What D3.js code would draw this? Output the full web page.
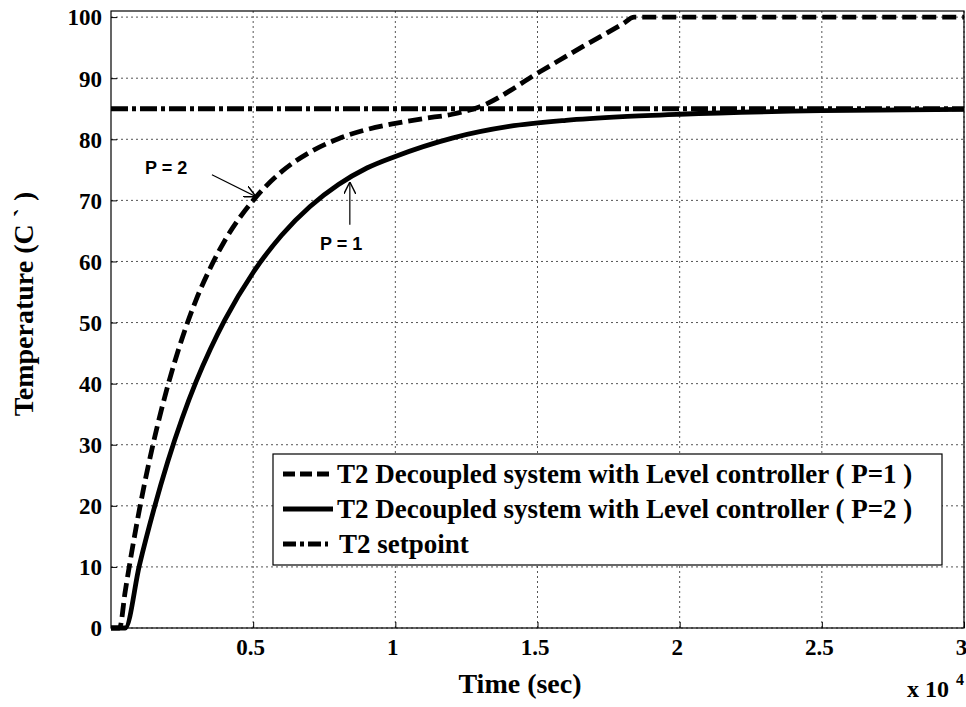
<!DOCTYPE html>
<html>
<head>
<meta charset="utf-8">
<script src="https://cdn.jsdelivr.net/npm/d3@7"></script>
<style>
  body { margin: 0; background: #fff; }
  svg { display: block; }
</style>
</head>
<body>
<svg id="drawing_region"></svg>
<script>
// time (s) and temperature readings, dashed curve
const dashed_time = [0, 300, 500, 1000, 1500, 2000, 2500, 3000, 3500, 4000, 5000, 6000, 7000, 8000, 9000, 10000, 11000, 12000, 12900, 15100, 16600, 18000, 18400, 30000];
const dashed_temp = [0, 0, 6, 19.4, 30.5, 39.7, 47.4, 53.8, 59, 63.4, 70, 74.7, 77.9, 80.1, 81.6, 82.6, 83.4, 84.1, 85.2, 91.1, 95.2, 98.9, 100, 100];

// solid curve
const solid_time = [0, 500, 1000, 1500, 2000, 2500, 3000, 3500, 4000, 5000, 6000, 7000, 8000, 9000, 10000, 12000, 14000, 16000, 18000, 20000, 25000, 30000];
const solid_temp = [0, 0, 10.3, 19.3, 27.3, 34.3, 40.4, 45.7, 50.4, 58.2, 64.3, 69, 72.6, 75.3, 77.2, 80.2, 82.1, 83.1, 83.7, 84.1, 84.7, 84.9];

// setpoint
const setpoint_time = [0, 30000];
const setpoint_temp = [85, 85];

const x_ticks = [5000, 10000, 15000, 20000, 25000, 30000];
const x_tick_labels = ['0.5', '1', '1.5', '2', '2.5', '3'];
const y_ticks = [0, 10, 20, 30, 40, 50, 60, 70, 80, 90, 100];

const legend_labels = [
    'T2 Decoupled system with Level controller ( P=1 )',
    'T2 Decoupled system with Level controller ( P=2 )',
    'T2 setpoint'
];

var config = {
    width: 966,
    height: 707,
    margin: {top: 11, right: 2, bottom: 79, left: 111}
};

const svg = d3.select('#drawing_region')
    .attr('width', config.width)
    .attr('height', config.height);

const inner_width = config.width - config.margin.left - config.margin.right;
const inner_height = config.height - config.margin.top - config.margin.bottom;

const chart = svg.append('g')
    .attr('transform', `translate(${config.margin.left}, ${config.margin.top})`);

const xscale = d3.scaleLinear().domain([0, 30000]).range([0, inner_width]);
const yscale = d3.scaleLinear().domain([0, 101]).range([inner_height, 0]);

const serif = '"Liberation Serif", "Times New Roman", serif';

// grid
chart.append('g').selectAll('line')
    .data(x_ticks)
    .join('line')
    .attr('x1', d => xscale(d)).attr('x2', d => xscale(d))
    .attr('y1', 0).attr('y2', inner_height)
    .attr('stroke', '#555').attr('stroke-width', 1)
    .attr('stroke-dasharray', '2,3');

chart.append('g').selectAll('line')
    .data(y_ticks)
    .join('line')
    .attr('x1', 0).attr('x2', inner_width)
    .attr('y1', d => yscale(d)).attr('y2', d => yscale(d))
    .attr('stroke', '#555').attr('stroke-width', 1)
    .attr('stroke-dasharray', '2,3');

// axes (inward ticks, MATLAB style)
const xaxis = d3.axisBottom(xscale).tickValues(x_ticks).tickSize(-6).tickFormat((d, i) => x_tick_labels[i]);
const yaxis = d3.axisLeft(yscale).tickValues(y_ticks).tickSize(-6);

const xaxis_group = chart.append('g')
    .attr('transform', `translate(0, ${inner_height})`)
    .attr('font-family', serif)
    .call(xaxis);
xaxis_group.select('.domain').remove();
xaxis_group.selectAll('text')
    .attr('dy', 0).attr('y', 27)
    .attr('dx', -3)
    .style('font-family', serif).style('font-weight', 'bold').style('font-size', '23px').attr('fill', '#000');

const yaxis_group = chart.append('g')
    .attr('font-family', serif)
    .call(yaxis);
yaxis_group.select('.domain').remove();
yaxis_group.selectAll('text')
    .attr('x', -9).attr('dy', '0.34em')
    .style('font-family', serif).style('font-weight', 'bold').style('font-size', '23px').attr('fill', '#000');

// box
chart.append('rect')
    .attr('x', 0).attr('y', 0)
    .attr('width', inner_width).attr('height', inner_height)
    .attr('fill', 'none').attr('stroke', '#000').attr('stroke-width', 1.2);

// curves
const line = d3.line()
    .x(d => xscale(d[0]))
    .y(d => yscale(d[1]))
    .curve(d3.curveMonotoneX);

const series = [
    {t: dashed_time, v: dashed_temp, dash: '14,6'},
    {t: solid_time, v: solid_temp, dash: null},
    {t: setpoint_time, v: setpoint_temp, dash: '17,4,4,4'}
];

chart.append('g').selectAll('path')
    .data(series)
    .join('path')
    .attr('d', s => line(s.t.map((t, i) => [t, s.v[i]])))
    .attr('fill', 'none')
    .attr('stroke', '#000')
    .attr('stroke-width', 4.8)
    .attr('stroke-dasharray', s => s.dash);

// legend
const legend = svg.append('g').attr('transform', 'translate(273, 454)');
legend.append('rect')
    .attr('width', 669).attr('height', 111)
    .attr('fill', '#fff').attr('stroke', '#000').attr('stroke-width', 1.2);

const legend_dash = ['12,5', null, '13,4,4,4'];
legend.selectAll('g')
    .data(legend_labels)
    .join('g')
    .attr('transform', (d, i) => `translate(0, ${20 + i * 35})`)
    .each(function(d, i) {
        const g = d3.select(this);
        g.append('line')
            .attr('x1', 10).attr('x2', i === 2 ? 55 : 60)
            .attr('y1', 0).attr('y2', 0)
            .attr('stroke', '#000').attr('stroke-width', 4.8)
            .attr('stroke-dasharray', legend_dash[i]);
        g.append('text')
            .attr('x', i === 2 ? 66 : 64).attr('y', 9)
            .style('font-family', serif).style('font-weight', 'bold').style('font-size', '27px')
            .text(d);
    });

// axis titles
svg.append('text')
    .attr('x', 520).attr('y', 693)
    .attr('text-anchor', 'middle')
    .style('font-family', serif).style('font-weight', 'bold').style('font-size', '28px')
    .text('Time (sec)');

svg.append('text')
    .attr('x', 907).attr('y', 697)
    .style('font-family', serif).style('font-weight', 'bold').style('font-size', '24px')
    .text('x 10');
svg.append('text')
    .attr('x', 956).attr('y', 685)
    .style('font-family', serif).style('font-weight', 'bold').style('font-size', '16px')
    .text('4');

svg.append('text')
    .attr('transform', 'translate(33, 304) rotate(-90)')
    .attr('text-anchor', 'middle')
    .style('font-family', serif).style('font-weight', 'bold').style('font-size', '28px')
    .text('Temperature (C ` )');

// annotations
const sans = '"Liberation Sans", Arial, sans-serif';
svg.append('defs').append('marker')
    .attr('id', 'arrow')
    .attr('viewBox', '0 0 10 10')
    .attr('refX', 10).attr('refY', 5)
    .attr('markerWidth', 12).attr('markerHeight', 12)
    .attr('markerUnits', 'userSpaceOnUse')
    .attr('orient', 'auto')
    .append('path')
    .attr('d', 'M0,0 L10,5 L0,10')
    .attr('fill', 'none').attr('stroke', '#000').attr('stroke-width', 1.2);

chart.append('line')
    .attr('x1', xscale(3550)).attr('y1', yscale(74.2))
    .attr('x2', xscale(5100)).attr('y2', yscale(70.6))
    .attr('stroke', '#000').attr('stroke-width', 1.2)
    .attr('marker-end', 'url(#arrow)');
chart.append('text')
    .attr('x', xscale(1200)).attr('y', yscale(74.3))
    .style('font-family', sans).style('font-weight', 'bold').style('font-size', '18px')
    .text('P = 2');

chart.append('line')
    .attr('x1', xscale(8400)).attr('y1', yscale(66))
    .attr('x2', xscale(8400)).attr('y2', yscale(73))
    .attr('stroke', '#000').attr('stroke-width', 1.2)
    .attr('marker-end', 'url(#arrow)');
chart.append('text')
    .attr('x', xscale(7350)).attr('y', yscale(61.9))
    .style('font-family', sans).style('font-weight', 'bold').style('font-size', '18px')
    .text('P = 1');
</script>
</body>
</html>
